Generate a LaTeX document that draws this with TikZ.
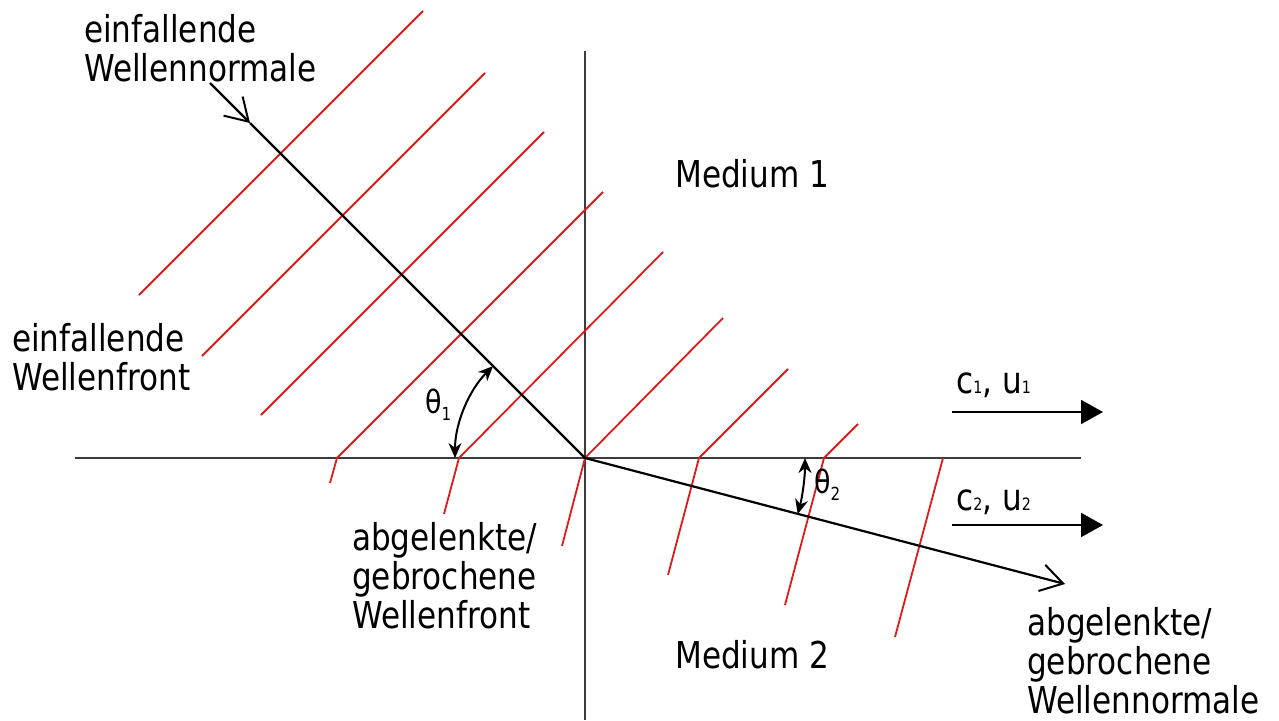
\documentclass[tikz,border=0pt]{standalone}
\usepackage{fontspec}
\setmainfont[FakeStretch=0.84]{DejaVu Sans}
\usetikzlibrary{arrows.meta,calc}
\definecolor{RotFront}{RGB}{225,25,25}
\definecolor{GrauAchse}{RGB}{60,60,60}
\newcommand{\idx}[1]{{\fontsize{17}{17}\selectfont #1}}
\newcommand{\widx}[1]{\raisebox{-7pt}{\fontsize{18}{18}\selectfont #1}}

\begin{document}
\begin{tikzpicture}[x=1pt,y=-1pt,line join=round,
  achse/.style={line width=2.2pt,GrauAchse},
  normale/.style={line width=2.2pt,-{Straight Barb[length=22pt,width=27pt,line width=2pt]}},
  front/.style={line width=1.8pt,RotFront},
  winkel/.style={line width=2pt,{Stealth[length=15pt,width=13pt]}-{Stealth[length=15pt,width=13pt]}},
  tempo/.style={line width=2pt,-{Triangle[length=22pt,width=24pt]}},
  txt/.style={inner sep=0pt,anchor=base west,align=left,font=\fontsize{37}{39}\selectfont}]
  \useasboundingbox (0,0) rectangle (1279,720);
  % Achsen
  \coordinate (O) at (585,458);
  \coordinate (GL) at (75,458);
  \coordinate (GR) at (1081,458);
  \coordinate (AT) at (585,51);
  \coordinate (AB) at (585,720);
  \draw[achse] (GL) -- (GR);
  \draw[achse] (AT) -- (AB);
  % Wellenfronten
  \foreach \xa/\ya/\xb/\yb in {139/295/423/11,202/356/485/73,261/415/544/132}
    \draw[front] (\xa,\ya) -- (\xb,\yb);
  \foreach \xu/\yu/\k/\xl/\yl in {603/192/337/330/483,663/252/459/444/514,
      723/318/585/562/546,788/369/699/668/575,858/424/824/785/605}
    \draw[front] (\xu,\yu) -- (\k,458) -- (\xl,\yl);
  \draw[front] (943,458) -- (895,637);
  % Wellennormalen
  \coordinate (NE) at (210,83);
  \coordinate (NM) at (250,123);
  \coordinate (NA) at (1065,584);
  \draw[normale] (NE) -- (NM);
  \draw[line width=2.2pt] (NM) -- (O);
  \draw[normale] (O) -- (NA);
  % Winkel
  \draw[winkel] ($(O)+(180:130)$) arc[start angle=180,end angle=225,radius=130];
  \draw[winkel] ($(O)+(0:220)$) arc[start angle=0,end angle=14.8,radius=220];
  \node[txt,font=\fontsize{32}{32}\selectfont] (th1) at (425,413) {θ\widx{1}};
  \node[txt,font=\fontsize{32}{32}\selectfont] (th2) at (814,493) {θ\widx{2}};
  % Ausbreitung
  \coordinate (V1a) at (952,412);
  \coordinate (V1b) at (1103,412);
  \coordinate (V2a) at (952,525);
  \coordinate (V2b) at (1103,525);
  \draw[tempo] (V1a) -- (V1b);
  \draw[tempo] (V2a) -- (V2b);
  \node[txt] (c1) at (956,393) {c\idx{1}, u\idx{1}};
  \node[txt] (c2) at (956,510) {c\idx{2}, u\idx{2}};
  % Beschriftung
  \node[txt] (lblEN) at (84,81) {einfallende\\Wellennormale};
  \node[txt] (lblEF) at (12,390) {einfallende\\Wellenfront};
  \node[txt] (med1) at (675,187) {Medium 1};
  \node[txt] (med2) at (675,668) {Medium 2};
  \node[txt] (lblGF) at (352,628) {abgelenkte/\\gebrochene\\Wellenfront};
  \node[txt] (lblGN) at (1027,713) {abgelenkte/\\gebrochene\\Wellennormale};
\end{tikzpicture}
\end{document}
